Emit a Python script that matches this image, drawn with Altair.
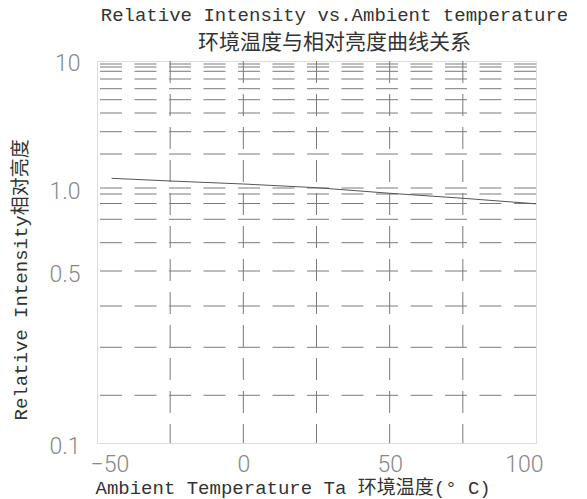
import altair as alt
import pandas as pd

# ---- data ----
temps = [-45, -25, 0, 25, 50, 75, 100]
intensity = [1.285, 1.206, 1.118, 1.009, 0.912, 0.855, 0.798]

# gridline values
h_grid = [0.2, 0.3, 0.4, 0.5, 0.6, 0.7, 0.8, 0.9, 1, 2, 3, 4, 5, 6, 7, 8, 9, 10]
v_grid = [-25, 0, 25, 50, 75]

x_ticks = [-50, 0, 50, 100]
y_ticks = [0.1, 0.5, 1, 10]

# the reference's own (non-uniform) y grid spacing, as a piecewise scale
y_domain = [0.1, 0.2, 0.3, 0.4, 0.5, 0.6, 0.7, 0.8, 0.9, 1, 2, 3, 4, 5, 6, 7, 8, 9, 10]
y_range = [382, 334.3, 286.3, 245, 210, 181.7, 158.3, 142.5, 133, 127,
           93, 70.7, 52, 38.7, 27.7, 18, 10.3, 6, 3]

W, H = 439, 382
TXT = "#333333"
LBL = "#888888"
GRID = "#7a7a7a"
MONO = "'Liberation Mono', 'Noto Sans CJK SC', monospace"

line_df = pd.DataFrame({"t": temps, "r": intensity})
hg_df = pd.DataFrame({"r": h_grid})
vg_df = pd.DataFrame({"t": v_grid})

xscale = alt.Scale(domain=[-50, 100], nice=False, zero=False)
yscale = alt.Scale(type="linear", domain=y_domain, range=y_range, zero=False, nice=False)

xaxis = alt.Axis(
    values=x_ticks,
    grid=False,
    ticks=False,
    domain=False,
    labelFlush=True,
    labelFlushOffset=7,
    labelFont="Roboto",
    labelFontWeight=300,
    labelFontSize=23,
    labelColor=LBL,
    labelPadding=10,
    title="Ambient Temperature Ta 环境温度(° C)",
    titleFont=MONO,
    titleFontSize=19,
    titleFontWeight="normal",
    titleColor=TXT,
    titleAlign="left",
    titleAnchor="start",
    titleBaseline="alphabetic",
    titleX=-2,
    titleY=50,
)
yaxis = alt.Axis(
    values=y_ticks,
    labelExpr="datum.value >= 10 ? '10' : format(datum.value, '.1f')",
    grid=False,
    ticks=False,
    domain=False,
    labelFont="Roboto",
    labelFontWeight=300,
    labelFontSize=23,
    labelColor=LBL,
    labelPadding=17,
    labelBaseline="middle",
    labelOffset={"condition": {"test": "datum.value >= 10", "value": -1}, "value": 3},
    title="Relative Intensity相对亮度",
    titleFont=MONO,
    titleFontSize=19,
    titleFontWeight="normal",
    titleColor=TXT,
    titleAngle=-90,
    titleAlign="left",
    titleAnchor="start",
    titleBaseline="middle",
    titleX=-77,
    titleY=359,
)

hgrid = alt.Chart(hg_df).mark_rule(color=GRID, strokeWidth=1, strokeDash=[22, 12.5]).encode(
    y=alt.Y("r:Q", scale=yscale, axis=yaxis)
)
vgrid = alt.Chart(vg_df).mark_rule(color=GRID, strokeWidth=1, strokeDash=[22, 11]).encode(
    x=alt.X("t:Q", scale=xscale, axis=xaxis)
)
line = alt.Chart(line_df).mark_line(color="#555555", strokeWidth=1).encode(
    x=alt.X("t:Q", scale=xscale, axis=xaxis),
    y=alt.Y("r:Q", scale=yscale, axis=yaxis),
)

chart = (
    alt.layer(hgrid, vgrid, line)
    .properties(
        width=W,
        height=H,
        title=alt.TitleParams(
            text="Relative Intensity vs.Ambient temperature",
            subtitle="环境温度与相对亮度曲线关系",
            font=MONO,
            fontSize=19,
            fontWeight="normal",
            color=TXT,
            subtitleFont="Noto Sans CJK SC",
            subtitleFontSize=21,
            subtitleColor=TXT,
            subtitlePadding=7,
            anchor="middle",
            frame="group",
            dx=18,
            dy=4,
            offset=3,
        ),
        autosize=alt.AutoSizeParams(type="none"),
        padding={"left": 97, "top": 61, "right": 51, "bottom": 56},
    )
    .configure_view(stroke="#777777", strokeWidth=1)
    .configure(background="white")
)

chart.save("out.html", embed_options={"renderer": "svg", "actions": False})
